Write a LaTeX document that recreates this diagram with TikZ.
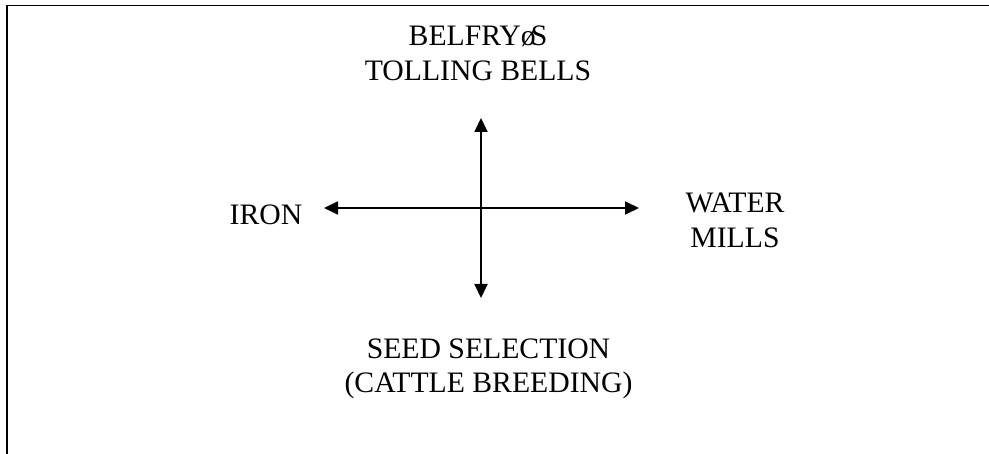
\documentclass[tikz,border=0pt]{standalone}
\usepackage{fontspec}
\setmainfont{Liberation Serif}
\usetikzlibrary{arrows.meta}
\begin{document}
\begin{tikzpicture}[x=1pt,y=-1pt,
  lbl/.style={inner sep=0pt,align=center,font=\fontsize{29.7}{34.5}\selectfont},
  frame/.style={line width=1.6pt,line cap=rect},
  axis/.style={line width=2pt,{Triangle[length=14pt,width=13pt]}-{Triangle[length=14pt,width=13pt]}}]
\useasboundingbox (0,0) rectangle (989,454);
% frame (open on right and bottom)
\coordinate (ftr) at (989,5.5);
\coordinate (ftl) at (7,5.5);
\coordinate (fbl) at (7,454);
\draw[frame] (ftr) -- (ftl) -- (fbl);
% labels
\node[lbl] (top) at (478,53.5) {BELFRYø\kern-5pt S\\TOLLING BELLS};
\node[lbl,anchor=base] (left) at (266,225) {IRON};
\node[lbl] (right) at (735,220.3) {WATER\\MILLS};
\node[lbl] (bottom) at (488.5,369) {SEED SELECTION\\(CATTLE BREEDING)};
% axis tips
\coordinate (vt) at (481,118);
\coordinate (vb) at (481,298);
\coordinate (hl) at (324,208);
\coordinate (hr) at (639,208);
\draw[axis] (vt) -- (vb);
\draw[axis] (hl) -- (hr);
\end{tikzpicture}
\end{document}
